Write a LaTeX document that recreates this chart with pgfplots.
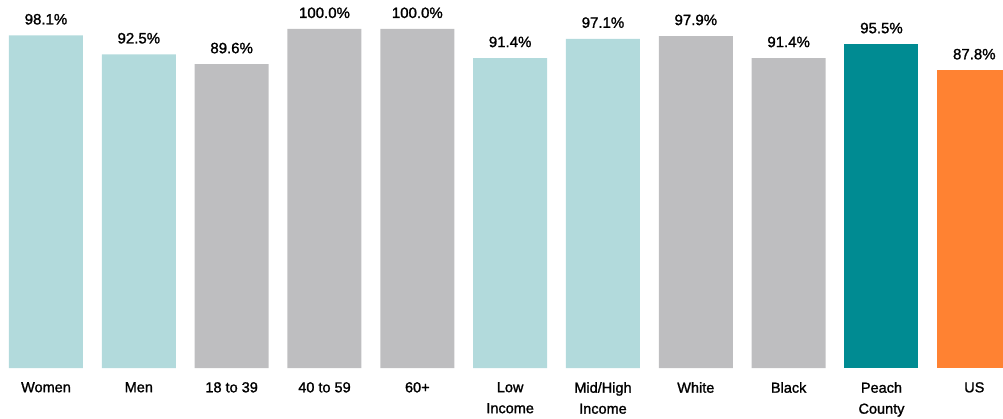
\documentclass[border=0pt]{standalone}
\usepackage{fontspec}
\setmainfont{Liberation Sans}
\newfontfamily\medfont{Liberation Sans}[FakeBold=1.4]
\usepackage{pgfplots}
\pgfplotsset{compat=1.18}
\definecolor{lteal}{RGB}{178,218,220}
\definecolor{lgray}{RGB}{190,190,192}
\definecolor{dteal}{RGB}{0,139,146}
\definecolor{orng}{RGB}{255,130,50}
\begin{document}
\begin{tikzpicture}
\begin{axis}[
  scale only axis, width=1003pt, height=419pt,
  xmin=-0.4955, xmax=10.309, ymin=-15.04, ymax=108.55,
  axis line style={draw=none}, major tick length=0pt,
  ytick=\empty,
  xtick={0,...,10},
  xticklabels={Women,Men,18 to 39,40 to 59,60+,Low\\Income,Mid/High\\Income,White,Black,Peach\\County,US},
  xticklabel style={anchor=north, inner sep=0pt, yshift=37pt, align=center,
    font=\medfont\fontsize{14.5}{21}\selectfont},
  /pgf/number format/assume math mode=true,
  nodes near coords={\pgfmathprintnumber[fixed,fixed zerofill,precision=1]{\pgfplotspointmeta}\%},
  every node near coord/.append style={anchor=base, inner sep=0pt, yshift=11pt, font=\medfont\fontsize{15}{18}\selectfont, text=black},
  clip=true,
]
\addplot[ybar, bar width=74pt, bar shift=0pt, fill=lteal, draw=none] coordinates {(0,98.1) (1,92.5) (5,91.4) (6,97.1)};
\addplot[ybar, bar width=74pt, bar shift=0pt, fill=lgray, draw=none] coordinates {(2,89.6) (3,100.0) (4,100.0) (7,97.9) (8,91.4)};
\addplot[ybar, bar width=74pt, bar shift=0pt, fill=dteal, draw=none] coordinates {(9,95.5)};
\addplot[ybar, bar width=74pt, bar shift=0pt, fill=orng, draw=none] coordinates {(10,87.8)};
\end{axis}
\pgfresetboundingbox
\path (current axis.south west) rectangle (current axis.north east);
\end{tikzpicture}
\end{document}
